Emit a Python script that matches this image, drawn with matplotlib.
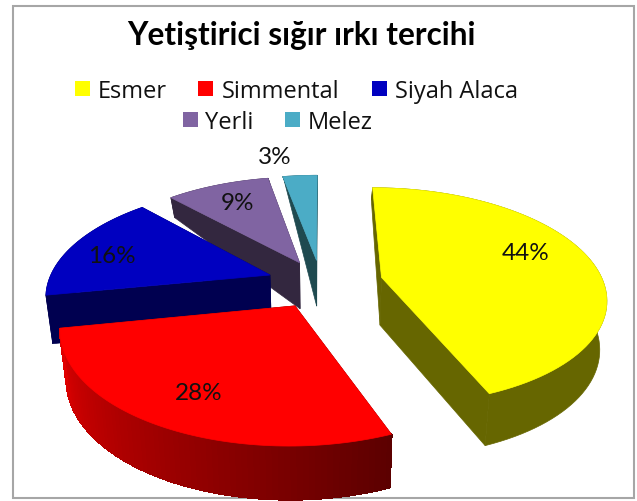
import numpy as np
import matplotlib
matplotlib.use('Agg')
import matplotlib.pyplot as plt
from matplotlib.patches import Polygon, Rectangle

title = 'Yetiştirici sığır ırkı tercihi'
categories = ['Esmer', 'Simmental', 'Siyah Alaca', 'Yerli', 'Melez']
values = [44, 28, 16, 9, 3]

top_colors = ['#ffff00', '#ff0000', '#0000c0', '#8064a2', '#4bacc6']
side_colors = ['#666600', '#660000', '#000050', '#33273f', '#1f4a50']

# pixel positions of legend and labels
legend_pos = [(75, 90, 98), (198, 90, 222), (372, 90, 395), (183, 121, 205), (285, 121, 308)]
label_pos = [(526, 254), (199, 394), (112, 257), (238, 204), (275, 158)]
explode = [0.28, 0.235, 0.245, 0.22, 0.22]

# fake perspective of the excel 3d pie
cx, cy = 321, 284
sx, sy = 222, 107
k = 0.173
shrink = 0.025


def depth(y):
    return 48 - 4.5 * y - 28 * max(y, 0) ** 2


def project(x, y, z=0):
    w = 1 + k * y
    px = cx + sx * x / w * (1 - shrink * z)
    py = cy - sy * y / w + depth(y) * z
    return px, py


fig = plt.figure(figsize=(6.37, 5.02), dpi=100)
ax = fig.add_axes([0, 0, 1, 1])
ax.set_xlim(0, 637)
ax.set_ylim(502, 0)
ax.axis('off')

ax.add_patch(Rectangle((13, 7), 621, 492, fill=False, ec='#a6a6a6', lw=1.5))

# slice angles, clockwise from 12 o'clock
fracs = np.array(values) / sum(values)
ends = 90 - 360 * np.cumsum(fracs)
starts = ends + 360 * fracs

# back to front
for i in [4, 3, 2, 0, 1]:
    a = np.radians(np.linspace(starts[i], ends[i], 80))
    mid = np.radians((starts[i] + ends[i]) / 2)
    ox, oy = explode[i] * np.cos(mid), explode[i] * np.sin(mid)
    rim_x, rim_y = ox + np.cos(a), oy + np.sin(a)

    # radial walls
    for j in [0, -1]:
        wall = [project(ox, oy), project(rim_x[j], rim_y[j]),
                project(rim_x[j], rim_y[j], 1), project(ox, oy, 1)]
        ax.add_patch(Polygon(wall, fc=side_colors[i], ec=side_colors[i], lw=0.5))

    # outer wall
    upper = [project(p, q) for p, q in zip(rim_x, rim_y)]
    lower = [project(p, q, 1) for p, q in zip(rim_x, rim_y)]
    if categories[i] == 'Simmental':
        for j in range(len(a) - 1):
            t = j / (len(a) - 2)
            col = (0.36 + 0.52 * t, 0, 0)
            quad = [upper[j], upper[j + 1], lower[j + 1], lower[j]]
            ax.add_patch(Polygon(quad, fc=col, ec=col, lw=1, antialiased=False))
    else:
        ax.add_patch(Polygon(upper + lower[::-1], fc=side_colors[i], ec=side_colors[i], lw=0.5))

    top = [project(ox, oy)] + upper
    ax.add_patch(Polygon(top, fc=top_colors[i], ec=top_colors[i], lw=0.5))

ax.text(301, 35, title, fontsize=22.7, fontweight='bold', family='Lato', ha='center', va='center', color='black')

for i, name in enumerate(categories):
    sw, ly, tx = legend_pos[i]
    ax.add_patch(Rectangle((sw, ly - 8), 15, 15, fc=top_colors[i], ec='none'))
    ax.text(tx, ly + 2, name, fontsize=17, family='Open Sans', ha='left', va='center', color='#111111')
    lx, lb = label_pos[i]
    ax.text(lx, lb, f'{values[i]}%', fontsize=17.5, family='Lato', ha='center', va='center', color='#111111')

fig.savefig('out.png', dpi=100)
